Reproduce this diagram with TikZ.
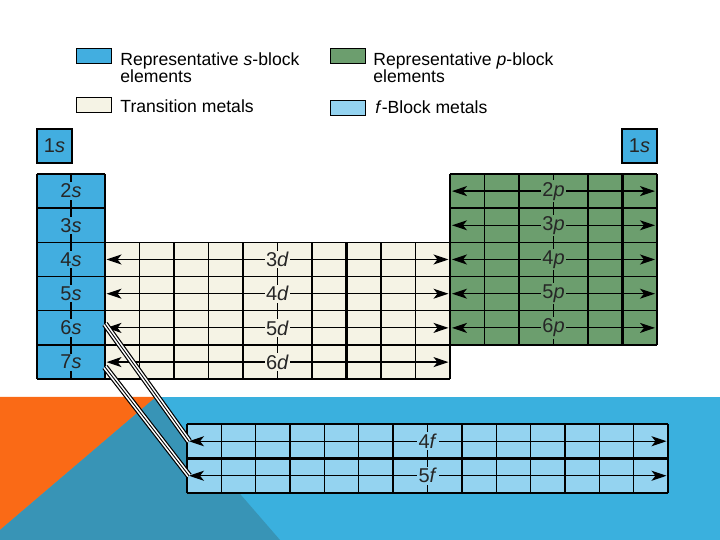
\documentclass[tikz,border=0pt]{standalone}
\usepackage{fontspec}
\setmainfont{Liberation Sans}
\usetikzlibrary{arrows.meta,positioning,calc}

\definecolor{sblue}{RGB}{66,174,224}
\definecolor{pgreen}{RGB}{108,158,110}
\definecolor{dcream}{RGB}{245,243,229}
\definecolor{fblue}{RGB}{148,211,240}
\definecolor{bandblue}{RGB}{58,176,222}
\definecolor{bandteal}{RGB}{56,148,182}
\definecolor{bandorange}{RGB}{250,106,22}

\begin{document}
\begin{tikzpicture}[
    x=0.5pt, y=-0.5pt,
    cellgrid/.style={draw=black, line width=0.7pt},
    thickgrid/.style={draw=black, line width=1.1pt},
    cell/.style={rectangle, draw=black, line width=0.7pt, minimum width=17.5pt, minimum height=17pt, inner sep=0pt, font=\fontsize{10}{11}\selectfont, text=black!85},
    swatch/.style={rectangle, draw=black, line width=0.5pt, minimum width=17.5pt, minimum height=7.5pt, inner sep=0pt},
    legtext/.style={anchor=north west, align=left, inner sep=0pt, font=\fontsize{8.8}{8.5}\selectfont},
    orblabel/.style={fill=#1, inner sep=0.8pt, font=\fontsize{10}{11}\selectfont, text=black!85},
    orbarrow/.style={{Stealth[length=7.5pt,width=5pt,inset=2pt]}-{Stealth[length=7.5pt,width=5pt,inset=2pt]}, line width=0.6pt},
    link/.style={line width=0.45pt, preaction={draw, line width=0.6pt, double=white, double distance=2pt}}
]
\useasboundingbox (0,0) rectangle (720,540);

% Background
\fill[white] (0,0) rectangle (720,540);
\fill[bandblue] (0,397) rectangle (720,540);
\fill[bandorange] (0,397) -- (156,397) -- (0,530) -- cycle;
\fill[bandteal] (156,397) -- (280,540) -- (0,540) -- (0,530) -- cycle;

% Key
\node[swatch, fill=sblue] (keyS) at (94.5,56) {};
\node[swatch, fill=dcream] (keyD) at (94.5,105) {};
\node[swatch, fill=pgreen] (keyP) at (348.5,56) {};
\node[swatch, fill=fblue] (keyF) at (348.5,108) {};
\node[legtext] (keySText) at (120,52) {Representative \textit{s}-block\\elements};
\node[legtext] (keyDText) at (120,99) {Transition metals};
\node[legtext] (keyPText) at (373,52) {Representative \textit{p}-block\\elements};
\node[legtext] (keyFText) at (375,100) {\textit{f}-Block metals};

% s block
\node[cell, fill=sblue] (s1left) at (54.5,146) {1\textit{s}};
\node[cell, fill=sblue] (s1right) at (639.5,146) {1\textit{s}};
\fill[sblue] (37,174) rectangle (105,379.2);
\foreach \j in {0,...,6} \draw[cellgrid] (37,{174+34.2*\j}) -- ++(68,0);
\draw[cellgrid] (37,174) -- ++(0,205.2);
\draw[cellgrid] (71,174) -- ++(0,205.2);
\draw[cellgrid] (105,174) -- ++(0,205.2);
\foreach \n [count=\j from 0] in {2,...,7}
  \node[orblabel=sblue] (s\n) at (71,{191.1+34.2*\j}) {\n\textit{s}};

% Transition metals
\fill[dcream] (105,242.4) rectangle (450,379.2);
\foreach \i in {0,...,10} \draw[cellgrid] ({105+34.5*\i},242.4) -- ++(0,136.8);
\draw[thickgrid] ({105+34.5*7},242.4) -- ++(0,136.8);
\foreach \j in {0,...,4} \draw[cellgrid] (105,{242.4+34.2*\j}) -- ++(345,0);
\foreach \n [count=\j from 0] in {3,4,5,6} {
  \coordinate (d\n w) at (106.5,{259.5+34.2*\j});
  \coordinate (d\n e) at (448.5,{259.5+34.2*\j});
  \draw[orbarrow] (d\n w) -- node[orblabel=dcream] {\n\textit{d}} (d\n e);
}

% p block
\fill[pgreen] (450,174) rectangle (657,345);
\foreach \i in {0,...,6} \draw[cellgrid] ({450+34.5*\i},174) -- ++(0,171);
\draw[thickgrid] ({450+34.5*5},174) -- ++(0,171);
\foreach \j in {0,...,5} \draw[cellgrid] (450,{174+34.2*\j}) -- ++(207,0);
\foreach \n [count=\j from 0] in {2,...,6} {
  \coordinate (p\n w) at (452,{191.1+34.2*\j});
  \coordinate (p\n e) at (655,{191.1+34.2*\j});
  \draw[orbarrow] (p\n w) -- node[orblabel=pgreen] {\n\textit{p}} (p\n e);
}

% f block
\fill[fblue] (187,424) rectangle (668,493);
\foreach \i in {0,...,14} \draw[cellgrid] ({187+34.357*\i},424) -- ++(0,69);
\draw[cellgrid] (187,424) -- ++(481,0);
\draw[cellgrid] (187,493) -- ++(481,0);
\draw[thickgrid] (187,458.5) -- ++(481,0);
\foreach \n [count=\j from 0] in {4,5} {
  \coordinate (f\n w) at (189,{441.25+34.5*\j});
  \coordinate (f\n e) at (666.5,{441.25+34.5*\j});
  \draw[orbarrow] (f\n w) -- node[orblabel=fblue] {\n\textit{f}} (f\n e);
}

% links from the s block down to the f block
\coordinate (s6out) at (105,324);
\coordinate (s7out) at (105,367);
\draw[link] (s6out) -- (f4w);
\draw[link] (s7out) -- (f5w);

\end{tikzpicture}
\end{document}
